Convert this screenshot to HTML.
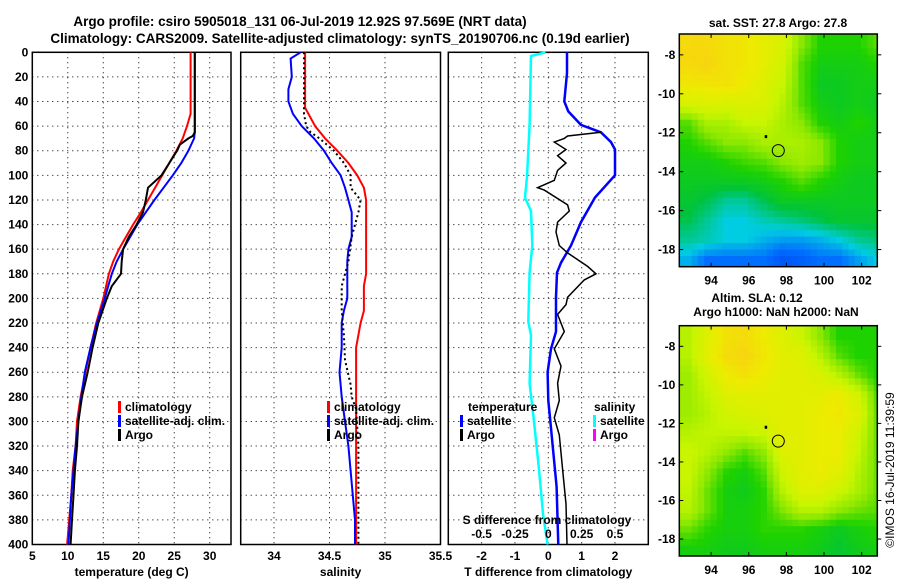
<!DOCTYPE html>
<html><head><meta charset="utf-8"><style>
body{margin:0;background:#fff;}
svg{display:block;font-family:"Liberation Sans",sans-serif;font-weight:bold;}
</style></head><body>
<svg id="fig" width="900" height="580" viewBox="0 0 900 580">
<defs><clipPath id="clipA"><rect x="679.3" y="34" width="198" height="232.7"/></clipPath><clipPath id="clipB"><rect x="679.3" y="325.7" width="198" height="230.3"/></clipPath></defs>
<g id="mapA" clip-path="url(#clipA)"></g>
<g id="mapB" clip-path="url(#clipB)"></g>
<text x="300" y="26" font-size="13.5" text-anchor="middle">Argo profile: csiro 5905018_131 06-Jul-2019 12.92S 97.569E (NRT data)</text>
<text x="340" y="43" font-size="13.5" text-anchor="middle">Climatology: CARS2009. Satellite-adjusted climatology: synTS_20190706.nc (0.19d earlier)</text>
<text x="778" y="27" font-size="12" text-anchor="middle">sat. SST: 27.8 Argo: 27.8</text>
<text x="757" y="302" font-size="12" text-anchor="middle">Altim. SLA: 0.12</text>
<text x="776" y="316" font-size="12" text-anchor="middle">Argo h1000: NaN h2000: NaN</text>
<text transform="translate(894,470) rotate(-90)" font-size="12" font-weight="normal" text-anchor="middle">©IMOS 16-Jul-2019 11:39:59</text>
</svg>
<script>
// ---- data ----
const depthTicks=[0,20,40,60,80,100,120,140,160,180,200,220,240,260,280,300,320,340,360,380,400];
const tempTicks=[5,10,15,20,25,30];
const salTicks=[34,34.5,35,35.5];
const tdTicks=[-2,-1,0,1,2];
const sdTicks=[-0.5,-0.25,0,0.25,0.5];
const lonTicks=[94,96,98,100,102];
const latTicks=[-8,-10,-12,-14,-16,-18];

const tClimDepth=[0,50,60,70,80,90,100,110,120,130,140,150,160,170,180,200,220,240,260,280,300,320,340,360,380,400];
const tClimVal=[27.3,27.3,26.8,26.2,25.3,24.3,23.3,22.3,21.3,20.3,19.2,18.2,17.2,16.4,15.8,15.0,14.0,13.2,12.5,11.8,11.3,11.1,10.7,10.5,10.2,9.9];
const tSatDepth=[0,65,70,80,90,100,110,120,130,140,150,160,170,180,200,220,240,260,280,300,320,340,360,380,400];
const tSatVal=[27.9,27.9,27.8,27.0,26.0,24.8,23.5,22.2,21.0,19.8,18.8,17.8,16.9,16.2,15.2,14.1,13.2,12.4,11.9,11.5,11.1,10.8,10.5,10.3,10.1];
const tArgoDepth=[0,65,68,70,75,80,90,100,110,120,130,140,150,160,170,180,190,200,220,240,260,280,300,320,340,360,380,400];
const tArgoVal=[27.9,27.9,27.6,27.0,25.8,25.4,24.3,23.2,21.3,21.0,20.6,19.7,18.6,17.8,17.6,17.5,16.2,15.5,14.3,13.5,12.8,12.0,11.5,11.3,11.0,10.8,10.6,10.4];

const sClimDepth=[0,45,60,70,80,90,100,110,120,180,190,210,220,240,400];
const sClimVal=[34.28,34.28,34.37,34.46,34.57,34.67,34.75,34.81,34.83,34.83,34.81,34.81,34.78,34.74,34.74];
const sSatDepth=[0,5,20,30,40,50,60,70,80,90,100,110,120,130,150,160,170,200,210,220,240,260,280,300,320,340,360,380,400];
const sSatVal=[34.24,34.15,34.16,34.13,34.13,34.17,34.25,34.36,34.45,34.52,34.60,34.64,34.67,34.70,34.70,34.67,34.66,34.66,34.63,34.61,34.61,34.59,34.61,34.64,34.67,34.69,34.71,34.73,34.73];
const sArgoDepth=[0,50,60,65,70,80,90,100,110,120,130,140,150,170,190,210,230,250,270,280,290,320,400];
const sArgoVal=[34.27,34.27,34.29,34.33,34.41,34.54,34.63,34.69,34.69,34.78,34.76,34.73,34.70,34.67,34.61,34.61,34.63,34.64,34.69,34.70,34.74,34.76,34.76];

const dSatDepth=[0,17,34,40,48,59,65,73,79,100,118,138,157,171,179,199,227,241,260,283,297,325,353,381,400];
const dSatVal=[0.56,0.56,0.5,0.48,0.6,0.98,1.58,1.88,2.0,2.0,1.4,0.98,0.68,0.38,0.26,0.23,0.23,0.08,-0.02,0.0,0.05,0.15,0.25,0.28,0.3];
const dArgoDepth=[65,68,70,73,79,84,90,96,104,110,112,124,129,138,146,157,163,174,180,185,199,205,213,227,241,255,269,283,297,311,339,367,400];
const dArgoVal=[1.58,0.58,0.48,0.18,0.53,0.28,0.53,0.28,0.18,-0.32,-0.12,0.58,0.63,0.28,0.23,0.33,0.58,1.18,1.43,1.08,0.58,0.53,0.28,0.48,0.18,0.38,0.28,0.33,0.18,0.33,0.43,0.53,0.56];
const sDiffDepth=[0,3,59,101,118,129,157,179,219,230,269,297,339,375,400];
const sDiffVal=[-0.02,-0.13,-0.14,-0.16,-0.175,-0.13,-0.12,-0.14,-0.15,-0.13,-0.14,-0.11,-0.07,-0.04,-0.005];

const mapLats=[-7.5,-8.5,-9.5,-10.5,-11.5,-12.5,-13.5,-14.5,-15.5,-16.5,-17.5,-18.5];
const mapLons=[92.8,93.8,94.8,95.8,96.8,97.8,98.8,99.8,100.8,101.8,102.8];
const sstGrid=[
[0.85,0.85,0.82,0.8,0.75,0.7,0.55,0.45,0.45,0.45,0.5],
[0.85,0.87,0.82,0.8,0.75,0.68,0.5,0.42,0.42,0.42,0.45],
[0.8,0.8,0.82,0.78,0.72,0.65,0.5,0.4,0.4,0.42,0.42],
[0.7,0.72,0.7,0.72,0.7,0.62,0.5,0.42,0.4,0.42,0.4],
[0.5,0.6,0.6,0.65,0.65,0.6,0.55,0.45,0.42,0.45,0.42],
[0.45,0.5,0.55,0.55,0.6,0.6,0.6,0.55,0.45,0.42,0.42],
[0.42,0.42,0.45,0.48,0.5,0.55,0.58,0.55,0.45,0.42,0.42],
[0.4,0.4,0.4,0.4,0.42,0.45,0.5,0.45,0.42,0.4,0.4],
[0.38,0.35,0.3,0.3,0.35,0.4,0.4,0.4,0.4,0.4,0.4],
[0.35,0.3,0.25,0.25,0.28,0.3,0.32,0.35,0.38,0.38,0.38],
[0.3,0.28,0.25,0.25,0.22,0.2,0.2,0.22,0.25,0.3,0.32],
[0.22,0.15,0.15,0.15,0.15,0.1,0.12,0.15,0.15,0.2,0.25]];
const slaGrid=[
[0.62,0.72,0.82,0.84,0.78,0.72,0.66,0.55,0.45,0.45,0.45],
[0.62,0.74,0.84,0.87,0.8,0.74,0.72,0.62,0.5,0.45,0.45],
[0.58,0.68,0.78,0.82,0.77,0.74,0.74,0.7,0.62,0.52,0.45],
[0.58,0.64,0.72,0.74,0.74,0.74,0.74,0.74,0.78,0.68,0.5],
[0.58,0.62,0.68,0.7,0.72,0.74,0.74,0.77,0.8,0.72,0.52],
[0.62,0.64,0.64,0.64,0.67,0.74,0.74,0.77,0.77,0.68,0.52],
[0.66,0.62,0.56,0.5,0.56,0.72,0.74,0.77,0.77,0.65,0.52],
[0.66,0.56,0.46,0.43,0.5,0.67,0.74,0.77,0.74,0.62,0.52],
[0.64,0.52,0.43,0.41,0.46,0.62,0.72,0.72,0.67,0.6,0.52],
[0.62,0.52,0.43,0.43,0.46,0.54,0.62,0.62,0.56,0.52,0.5],
[0.52,0.46,0.43,0.43,0.46,0.46,0.46,0.43,0.4,0.43,0.45],
[0.43,0.43,0.41,0.41,0.43,0.43,0.43,0.41,0.38,0.41,0.43]];
const argoLon=97.569, argoLat=-12.92;
const prevLon=96.9, prevLat=-12.2;

// ---- rendering ----
const NS='http://www.w3.org/2000/svg';
const svg=document.getElementById('fig');
function mk(tag,attrs,parent){const e=document.createElementNS(NS,tag);for(const k in attrs)e.setAttribute(k,attrs[k]);(parent||svg).appendChild(e);return e;}
const Y0=52.3,Y1=544.5;
const yD=d=>Y0+(d/400)*(Y1-Y0);
function lin(d0,d1,r0,r1){return v=>r0+(v-d0)/(d1-d0)*(r1-r0);}

function panel(L,R,name,xs,xTicks,xLab,xTitle,showY){
  for(const d of depthTicks){
    const g=mk('line',{x1:L,x2:R,y1:yD(d),y2:yD(d),stroke:'#000','stroke-width':1,'stroke-dasharray':'1,4'});
    
    
    if(showY){const t=mk('text',{x:L-4,y:yD(d)+4,'font-size':12,'text-anchor':'end'});t.textContent=d;
      
      }
  }
  for(const v of xTicks){
    const x=xs(v);
    if(x>L+1&&x<R-1){const g=mk('line',{x1:x,x2:x,y1:Y0,y2:Y1,stroke:'#000','stroke-width':1,'stroke-dasharray':'1,4'});
    
    }
  }
  xLab.forEach((s,i)=>{const t=mk('text',{x:xs(xTicks[i]),y:560,'font-size':12,'text-anchor':'middle'});t.textContent=s;
    
    });
  const r=mk('rect',{x:L,y:Y0,width:R-L,height:Y1-Y0,fill:'none',stroke:'#000','stroke-width':1.5});
  
  
  const tt=mk('text',{x:(L+R)/2,y:576,'font-size':12,'text-anchor':'middle'});tt.textContent=xTitle;
  
  
}
function series(xs,depths,vals,color,name,dash,w){
  const p=depths.map((d,i)=>xs(vals[i]).toFixed(1)+','+yD(d).toFixed(1)).join(' ');
  const a={points:p,fill:'none',stroke:color,'stroke-width':w||2};
  if(dash)a['stroke-dasharray']=dash;
  const e=mk('polyline',a);
  
  
}
function legend(x,y,color,label,name){
  const m=mk('rect',{x:x,y:y-10,width:3,height:12,fill:color});
  
  
  const t=mk('text',{x:x+7,y:y,'font-size':12});t.textContent=label;
  
  
}

// Temperature panel
const xT=lin(5,33,32.3,231);
panel(32.3,231,'temperature-panel',xT,tempTicks,tempTicks.map(String),'temperature (deg C)',true);
series(xT,tClimDepth,tClimVal,'#f00','temp-climatology-line');
series(xT,tSatDepth,tSatVal,'#00f','temp-satellite-line');
series(xT,tArgoDepth,tArgoVal,'#000','temp-argo-line');
legend(118,411,'#f00','climatology','temp-legend-climatology');
legend(118,425,'#00f','satellite-adj. clim.','temp-legend-satellite');
legend(118,439,'#000','Argo','temp-legend-argo');

// Salinity panel
const xS=lin(33.7,35.5,240.7,440.5);
panel(240.7,440.5,'salinity-panel',xS,salTicks,salTicks.map(String),'salinity',false);
series(xS,sClimDepth,sClimVal,'#f00','sal-climatology-line');
series(xS,sSatDepth,sSatVal,'#00f','sal-satellite-line');
series(xS,sArgoDepth,sArgoVal,'#000','sal-argo-line','2,3',2);
legend(327,411,'#f00','climatology','sal-legend-climatology');
legend(327,425,'#00f','satellite-adj. clim.','sal-legend-satellite');
legend(327,439,'#000','Argo','sal-legend-argo');

// Difference panel
const xD=lin(-3,3,448.3,648.3);
const xSD=lin(-0.75,0.75,448.3,648.3);
panel(448.3,648.3,'difference-panel',xD,tdTicks,tdTicks.map(String),'T difference from climatology',false);
series(xSD,sDiffDepth,sDiffVal,'#0ff','sdiff-satellite-line',null,2.5);
series(xD,dSatDepth,dSatVal,'#00f','tdiff-satellite-line',null,2.5);
series(xD,dArgoDepth,dArgoVal,'#000','tdiff-argo-line',null,1.5);
{const t=mk('text',{x:468,y:411,'font-size':12});t.textContent='temperature';


const s=mk('text',{x:594,y:411,'font-size':12});s.textContent='salinity';

}
legend(460,425,'#00f','satellite','diff-legend-t-satellite');
legend(460,439,'#000','Argo','diff-legend-t-argo');
legend(593,425,'#0ff','satellite','diff-legend-s-satellite');
legend(593,439,'#f0f','Argo','diff-legend-s-argo');
{const t=mk('text',{x:547,y:524,'font-size':12,'text-anchor':'middle'});t.textContent='S difference from climatology';

}
sdTicks.forEach(v=>{const t=mk('text',{x:xSD(v),y:538,'font-size':12,'text-anchor':'middle'});t.textContent=String(v);

});

// Maps
function cmap(v){
  const stops=[[0,[0,40,230]],[0.15,[0,110,255]],[0.25,[0,205,225]],[0.36,[0,195,60]],[0.45,[30,210,0]],[0.55,[140,232,0]],[0.65,[200,245,0]],[0.78,[238,235,0]],[0.9,[250,205,20]],[1,[255,160,0]]];
  for(let i=1;i<stops.length;i++){if(v<=stops[i][0]){const a=stops[i-1],b=stops[i];const f=(v-a[0])/(b[0]-a[0]);
    return 'rgb('+a[1].map((c,j)=>Math.round(c+(b[1][j]-c)*f)).join(',')+')';}}
  return 'rgb(255,160,0)';
}
function sample(grid,fi,fj){
  const ni=grid.length,nj=grid[0].length;
  fi=Math.max(0,Math.min(ni-1,fi));fj=Math.max(0,Math.min(nj-1,fj));
  const i0=Math.floor(fi),j0=Math.floor(fj),i1=Math.min(ni-1,i0+1),j1=Math.min(nj-1,j0+1);
  const a=fi-i0,b=fj-j0;
  return grid[i0][j0]*(1-a)*(1-b)+grid[i1][j0]*a*(1-b)+grid[i0][j1]*(1-a)*b+grid[i1][j1]*a*b;
}
function map(T,B,grid,name,gid){
  const L=679.3,R=877.3;
  const xL=lin(92.31,102.83,L,R), yL=lin(-6.93,-18.88,T,B);
  const g=document.getElementById(gid);
  const sub=3, cw=(xL(1)-xL(0))/sub, ch=(yL(-1)-yL(0))/sub;
  for(let i=-1;i<grid.length*sub+2;i++)for(let j=-2;j<grid[0].length*sub+2;j++){
    const fi=(i+0.5)/sub-0.5, fj=(j+0.5)/sub-0.5;
    const lat=mapLats[0]-(fi), lon=mapLons[0]+fj;
    const c=mk('rect',{x:xL(lon-0.5/sub),y:yL(lat+0.5/sub),width:cw+0.6,height:ch+0.6,fill:cmap(sample(grid,fi,fj))},g);
    
    
  }
  const f=mk('rect',{x:L,y:T,width:R-L,height:B-T,fill:'none',stroke:'#000','stroke-width':1.5});
  
  
  lonTicks.forEach(v=>{const x=xL(v);
    const a=mk('line',{x1:x,x2:x,y1:T,y2:T+4,stroke:'#000'});
    const b=mk('line',{x1:x,x2:x,y1:B,y2:B-4,stroke:'#000'});
    const t=mk('text',{x:x,y:B+18,'font-size':12,'text-anchor':'middle'});t.textContent=v;
    
    });
  latTicks.forEach(v=>{const y=yL(v);
    const a=mk('line',{x1:L,x2:L+4,y1:y,y2:y,stroke:'#000'});
    const b=mk('line',{x1:R,x2:R+4,y1:y,y2:y,stroke:'#000'});
    const t=mk('text',{x:L-4,y:y+4,'font-size':12,'text-anchor':'end'});t.textContent=v;
    
    });
  const p=mk('rect',{x:xL(prevLon)-1,y:yL(prevLat)-1.5,width:2.5,height:3,fill:'#000'});
  
  
  const c=mk('circle',{cx:xL(argoLon),cy:yL(argoLat),r:6,fill:'none',stroke:'#000','stroke-width':1});
  
  
}
map(34,266.7,sstGrid,'sst-map','mapA');
map(325.7,556,slaGrid,'sla-map','mapB');
</script>
</body></html>
